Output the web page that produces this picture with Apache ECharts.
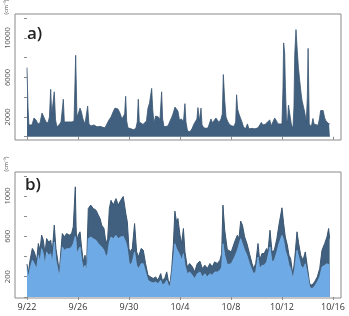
<!DOCTYPE html>
<html><head><meta charset="utf-8">
<script src="https://cdn.jsdelivr.net/npm/echarts@6/dist/echarts.min.js"></script>
<style>html,body{margin:0;padding:0;background:#fff}#c{width:349px;height:316px}</style>
</head><body><div id="c"></div>
<script>
// x values are days since 9/22 00:00
const xTickDays = [0, 4, 8, 12, 16, 20, 24];
const xTickLabels = ['9/22', '9/26', '9/30', '10/4', '10/8', '10/12', '10/16'];
const aTickValues = [0, 2000, 4000, 6000, 8000, 10000, 12000];
const aLabelValues = [2000, 6000, 10000];
const bTickValues = [0, 200, 400, 600, 800, 1000, 1200];
const bLabelValues = [200, 600, 1000];

// panel a: total concentration
const aDay = [0,0.08,0.15,0.24,0.39,0.55,0.71,0.86,1.02,1.18,1.33,1.49,1.65,1.76,1.86,1.94,2.04,2.14,2.24,2.35,2.51,2.67,2.77,2.85,2.93,3.06,3.22,3.37,3.53,3.69,3.82,3.92,4.04,4.16,4.27,4.39,4.55,4.67,4.76,4.86,5.02,5.25,5.49,5.73,5.96,6.12,6.27,6.43,6.59,6.75,6.9,7.02,7.14,7.29,7.45,7.57,7.66,7.74,7.82,7.92,8.16,8.39,8.55,8.65,8.73,8.81,8.94,9.1,9.25,9.37,9.49,9.61,9.71,9.78,9.86,9.96,10.09,10.2,10.31,10.43,10.56,10.64,10.75,10.9,11.06,11.22,11.33,11.45,11.61,11.74,11.84,11.96,12.12,12.27,12.39,12.47,12.59,12.78,12.94,13.1,13.25,13.33,13.41,13.53,13.65,13.73,13.88,14.04,14.2,14.35,14.43,14.55,14.67,14.82,14.94,15.06,15.22,15.32,15.4,15.51,15.61,15.76,15.92,16.08,16.24,16.37,16.44,16.52,16.63,16.75,16.86,16.98,17.14,17.29,17.41,17.65,17.88,18.12,18.27,18.38,18.51,18.67,18.82,19.04,19.16,19.29,19.43,19.57,19.69,19.84,20.0,20.08,20.13,20.21,20.27,20.35,20.43,20.51,20.63,20.73,20.86,20.94,21.0,21.1,21.2,21.29,21.39,21.49,21.57,21.69,21.78,21.91,21.99,22.05,22.14,22.3,22.43,22.51,22.63,22.82,22.94,23.03,23.14,23.23,23.35,23.45,23.55,23.69,23.76];
const aConc = [7000,3000,1200,1150,1200,1900,1700,1300,1400,2400,2300,1500,1400,2000,4800,2200,2000,4550,1700,1000,1200,1500,1700,3800,1500,1400,1500,1300,1500,1600,8250,2000,2400,2900,2500,1800,1300,1500,3100,1300,1100,1200,1000,1050,950,900,1300,1700,2000,2500,2900,3100,2800,2400,1800,1600,2300,4100,1600,900,800,700,900,1500,3800,1500,1400,1250,1150,1600,2900,3400,3200,4900,2800,1400,2100,1900,2000,1700,4550,1800,1000,950,1100,1600,1900,2300,3000,3200,2600,1700,1800,1500,3350,1500,600,500,800,1300,1250,1800,2950,1600,2900,1200,900,850,900,1100,1800,1400,1300,1900,2000,1450,1800,2300,6300,3700,2000,1500,1200,1100,1050,1500,4250,2800,2300,2500,1500,1000,800,1300,800,850,800,900,1100,1450,1200,1250,1150,1700,1100,1500,1900,1600,1300,1100,1300,5000,9500,8500,5000,1800,1400,3200,3000,1300,800,3000,8300,10850,8700,7000,5700,4500,3700,3000,2500,1500,4000,8950,1300,1000,1850,1300,1100,1150,1800,2650,2600,2650,1900,1600,1450,1300,1300];

// panel b: total (dark) and lower fraction (light)
const bDay = [0,0.1,0.24,0.42,0.57,0.76,0.89,1.02,1.15,1.28,1.41,1.54,1.7,1.86,1.98,2.14,2.27,2.41,2.53,2.64,2.77,2.93,3.11,3.32,3.5,3.63,3.74,3.79,3.85,3.9,4.02,4.16,4.29,4.42,4.55,4.68,4.81,5.0,5.2,5.41,5.6,5.73,5.86,6.04,6.2,6.33,6.46,6.59,6.77,6.98,7.16,7.35,7.55,7.76,7.87,8.0,8.08,8.26,8.44,8.6,8.75,8.96,9.12,9.3,9.49,9.7,9.9,10.09,10.27,10.49,10.61,10.8,10.96,11.08,11.22,11.35,11.48,11.6,11.73,11.84,12.0,12.13,12.27,12.39,12.57,12.76,12.97,13.15,13.36,13.57,13.75,13.96,14.14,14.35,14.53,14.72,14.93,15.14,15.27,15.37,15.51,15.71,16.02,16.29,16.5,16.63,16.76,16.9,17.07,17.25,17.45,17.65,17.78,17.94,18.12,18.25,18.43,18.6,18.8,18.9,19.06,19.22,19.4,19.6,19.76,19.9,20.0,20.13,20.26,20.42,20.55,20.68,20.86,21.0,21.18,21.31,21.47,21.65,21.83,21.99,22.17,22.35,22.56,22.77,22.96,23.14,23.35,23.53,23.66,23.74];
const bTotal = [325,231,364,480,446,364,529,463,612,562,430,578,543,562,446,711,480,364,248,231,628,595,628,612,628,694,700,1091,700,546,612,645,480,347,413,331,876,910,876,860,810,777,711,678,529,578,876,957,910,974,910,957,995,820,744,479,446,480,727,446,397,480,463,331,215,198,182,198,165,231,165,182,248,165,132,281,513,850,744,777,612,529,678,446,298,331,298,248,331,353,281,314,281,331,298,347,331,364,430,910,661,470,446,546,612,578,751,711,595,529,430,331,281,331,529,364,430,430,480,446,661,446,463,578,711,727,883,727,595,513,413,380,215,380,645,529,413,364,446,298,132,116,149,198,281,463,529,595,678,578];
const bLight = [280,190,280,363,329,280,412,346,478,428,313,445,412,428,329,544,363,280,197,181,495,462,478,478,495,527,540,600,560,428,462,495,363,280,313,264,577,594,577,561,527,527,495,462,395,428,544,594,577,610,577,594,600,540,480,346,313,346,445,313,280,329,329,247,164,148,138,148,131,164,121,131,164,121,98,214,363,527,478,478,412,363,428,313,230,247,214,181,230,247,197,230,197,230,214,247,247,264,296,527,412,320,329,395,462,445,577,561,462,412,329,264,230,247,395,280,313,313,346,329,495,346,363,445,527,544,610,561,462,395,313,280,181,280,462,395,313,280,329,230,98,81,105,148,197,296,313,329,313,313];

const DARK = '#41607f';
const LIGHT = '#6eaae6';
const FRAME = '#8a8a8a';
const FONT = 'Open Sans';

const pairs = (xs, ys) => xs.map((x, i) => [x, ys[i]]);
const xFmt = v => { const i = xTickDays.indexOf(Math.round(v)); return i >= 0 ? xTickLabels[i] : ''; };

function xAxis(gi, showLabels) {
  return {
    type: 'value', gridIndex: gi, min: -0.94, max: 24.63,
    axisLine: { show: false }, splitLine: { show: false },
    axisTick: { show: true, length: 3, customValues: xTickDays, lineStyle: { color: FRAME } },
    axisLabel: { show: showLabels, customValues: xTickDays, formatter: xFmt, fontSize: 9, color: '#333', fontFamily: FONT, margin: 5 }
  };
}
function yAxis(gi, min, max, ticks, labels) {
  return {
    type: 'value', gridIndex: gi, min: min, max: max,
    axisLine: { show: false }, splitLine: { show: false },
    axisTick: { show: true, length: 3, customValues: ticks, lineStyle: { color: FRAME } },
    axisLabel: { show: true, customValues: labels, formatter: v => String(v), rotate: 90, fontSize: 7.5, color: '#555', fontFamily: FONT, margin: 3 }
  };
}

const chart = echarts.init(document.getElementById('c'), null, { renderer: 'canvas' });
chart.setOption({
  animation: false,
  backgroundColor: '#fff',
  grid: [
    { left: 15, top: 14, width: 326, height: 126, show: true, borderColor: FRAME, borderWidth: 1, backgroundColor: 'transparent' },
    { left: 15, top: 172, width: 326, height: 126, show: true, borderColor: FRAME, borderWidth: 1, backgroundColor: 'transparent' }
  ],
  xAxis: [xAxis(0, false), xAxis(1, true)],
  yAxis: [yAxis(0, -330, 12430, aTickValues, aLabelValues), yAxis(1, -11, 1238, bTickValues, bLabelValues)],
  series: [
    { type: 'line', xAxisIndex: 0, yAxisIndex: 0, data: pairs(aDay, aConc), showSymbol: false,
      lineStyle: { color: '#3a5672', width: 0.8 }, areaStyle: { color: DARK, opacity: 1, origin: 0 } },
    { type: 'line', xAxisIndex: 1, yAxisIndex: 1, data: pairs(bDay, bTotal), showSymbol: false,
      lineStyle: { color: '#3a5672', width: 1 }, areaStyle: { color: DARK, opacity: 1, origin: 0 } },
    { type: 'line', xAxisIndex: 1, yAxisIndex: 1, data: pairs(bDay, bLight), showSymbol: false,
      lineStyle: { color: '#7ab2ea', width: 0.8 }, areaStyle: { color: LIGHT, opacity: 1, origin: 0 } }
  ],
  graphic: [
    { type: 'text', left: 27, top: 26, style: { text: 'a)', fontSize: 17, fontFamily: FONT, fill: '#222', fontWeight: 600 } },
    { type: 'text', left: 25, top: 177, style: { text: 'b)', fontSize: 17, fontFamily: FONT, fill: '#222', fontWeight: 600 } },
    { type: 'text', x: 6, y: 7, rotation: Math.PI / 2, style: { text: '(cm\u207B\u00B3)', fontSize: 5.5, fontFamily: FONT, fill: '#555', align: 'center', verticalAlign: 'middle' } },
    { type: 'text', x: 6, y: 164, rotation: Math.PI / 2, style: { text: '(cm\u207B\u00B3)', fontSize: 5.5, fontFamily: FONT, fill: '#555', align: 'center', verticalAlign: 'middle' } }
  ]
});
</script></body></html>
